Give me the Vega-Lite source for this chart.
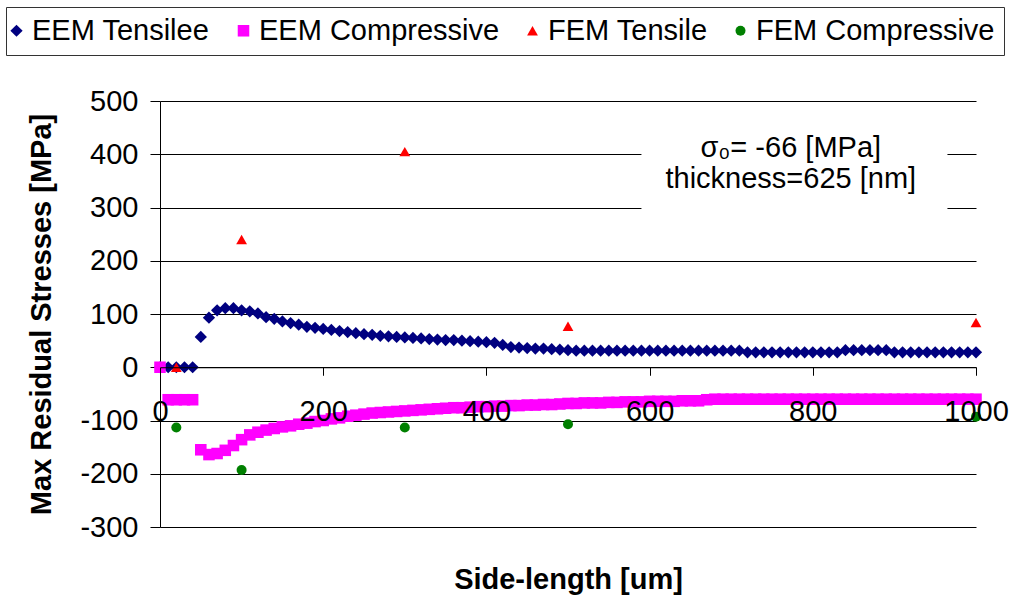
{
 "$schema": "https://vega.github.io/schema/vega-lite/v6.json",
 "width": 816,
 "height": 426,
 "autosize": {"type": "none"},
 "padding": {"left": 160, "top": 101, "right": 38, "bottom": 69},
 "background": "white",
 "config": {"font": "Liberation Sans", "view": {"stroke": null}},
 "encoding": {
  "x": {"field": "x", "type": "quantitative", "scale": {"domain": [0, 1000], "nice": false},
   "axis": {"orient": "bottom", "offset": -159.75, "values": [0, 200, 400, 600, 800, 1000], "labelExpr": "'' + datum.value", "tickSize": 8, "labelPadding": 22, "labelFontSize": 29, "labelColor": "black", "labelFlush": false, "labelOverlap": false, "domainColor": "black", "tickColor": "black", "grid": false, "title": "Side-length [um]", "titleFontSize": 29, "titleFontWeight": "bold", "titleColor": "black", "titleY": 221, "titleBaseline": "alphabetic", "zindex": 1}},
  "y": {"field": "y", "type": "quantitative", "scale": {"domain": [-300, 500], "nice": false},
   "axis": {"values": [-300, -200, -100, 0, 100, 200, 300, 400, 500], "labelExpr": "'' + datum.value", "tickSize": 10, "labelPadding": 12, "labelFontSize": 29, "labelColor": "black", "domainColor": "black", "tickColor": "black", "grid": true, "gridColor": "black", "gridOpacity": 1, "title": "Max Residual Stresses [MPa]", "titleFontSize": 29, "titleFontWeight": "bold", "titleColor": "black", "titleX": -110, "titleBaseline": "alphabetic", "zindex": 0}}
 },
 "layer": [
  {
   "data": {"values": [{"x": 590, "x2": 965, "y": 460, "y2": 293}]},
   "mark": {"type": "rect", "fill": "white", "stroke": null},
   "encoding": {"x2": {"field": "x2"}, "y2": {"field": "y2"}}
  },
  {
   "data": {"values": [{"x": 773, "y": 411, "t": "σ₀= -66 [MPa]"}, {"x": 773, "y": 354, "t": "thickness=625 [nm]"}]},
   "mark": {"type": "text", "fontSize": 29, "align": "center", "baseline": "middle", "color": "black"},
   "encoding": {"text": {"field": "t"}}
  },
  {
   "data": {"values": [
    {"s":"EEM Tensilee","x":0,"y":0},{"s":"EEM Tensilee","x":10,"y":0},{"s":"EEM Tensilee","x":20,"y":0},{"s":"EEM Tensilee","x":30,"y":0},{"s":"EEM Tensilee","x":40,"y":0},
    {"s":"EEM Tensilee","x":50,"y":57},{"s":"EEM Tensilee","x":60,"y":93},{"s":"EEM Tensilee","x":70,"y":107},{"s":"EEM Tensilee","x":80,"y":111},{"s":"EEM Tensilee","x":90,"y":111},
    {"s":"EEM Tensilee","x":100,"y":107},{"s":"EEM Tensilee","x":110,"y":105},{"s":"EEM Tensilee","x":120,"y":101},{"s":"EEM Tensilee","x":130,"y":94},{"s":"EEM Tensilee","x":140,"y":91},
    {"s":"EEM Tensilee","x":150,"y":86},{"s":"EEM Tensilee","x":160,"y":83},{"s":"EEM Tensilee","x":170,"y":80},{"s":"EEM Tensilee","x":180,"y":76},{"s":"EEM Tensilee","x":190,"y":74},
    {"s":"EEM Tensilee","x":200,"y":72},{"s":"EEM Tensilee","x":210,"y":70},{"s":"EEM Tensilee","x":220,"y":68},{"s":"EEM Tensilee","x":230,"y":66},{"s":"EEM Tensilee","x":240,"y":64},
    {"s":"EEM Tensilee","x":250,"y":62},{"s":"EEM Tensilee","x":260,"y":61},{"s":"EEM Tensilee","x":270,"y":59},{"s":"EEM Tensilee","x":280,"y":58},{"s":"EEM Tensilee","x":290,"y":57},
    {"s":"EEM Tensilee","x":300,"y":56},{"s":"EEM Tensilee","x":310,"y":55},{"s":"EEM Tensilee","x":320,"y":54},{"s":"EEM Tensilee","x":330,"y":53},{"s":"EEM Tensilee","x":340,"y":52},
    {"s":"EEM Tensilee","x":350,"y":51},{"s":"EEM Tensilee","x":360,"y":51},{"s":"EEM Tensilee","x":370,"y":50},{"s":"EEM Tensilee","x":380,"y":49},{"s":"EEM Tensilee","x":390,"y":48},
    {"s":"EEM Tensilee","x":400,"y":47},{"s":"EEM Tensilee","x":410,"y":46},{"s":"EEM Tensilee","x":420,"y":42},{"s":"EEM Tensilee","x":430,"y":38},{"s":"EEM Tensilee","x":440,"y":37},
    {"s":"EEM Tensilee","x":450,"y":36},{"s":"EEM Tensilee","x":460,"y":35},{"s":"EEM Tensilee","x":470,"y":35},{"s":"EEM Tensilee","x":480,"y":34},{"s":"EEM Tensilee","x":490,"y":33},
    {"s":"EEM Tensilee","x":500,"y":32},{"s":"EEM Tensilee","x":510,"y":31},{"s":"EEM Tensilee","x":520,"y":31},{"s":"EEM Tensilee","x":530,"y":31},{"s":"EEM Tensilee","x":540,"y":31},
    {"s":"EEM Tensilee","x":550,"y":31},{"s":"EEM Tensilee","x":560,"y":31},{"s":"EEM Tensilee","x":570,"y":31},{"s":"EEM Tensilee","x":580,"y":31},{"s":"EEM Tensilee","x":590,"y":31},
    {"s":"EEM Tensilee","x":600,"y":31},{"s":"EEM Tensilee","x":610,"y":31},{"s":"EEM Tensilee","x":620,"y":31},{"s":"EEM Tensilee","x":630,"y":31},{"s":"EEM Tensilee","x":640,"y":31},
    {"s":"EEM Tensilee","x":650,"y":31},{"s":"EEM Tensilee","x":660,"y":31},{"s":"EEM Tensilee","x":670,"y":31},{"s":"EEM Tensilee","x":680,"y":31},{"s":"EEM Tensilee","x":690,"y":31},
    {"s":"EEM Tensilee","x":700,"y":31},{"s":"EEM Tensilee","x":710,"y":31},{"s":"EEM Tensilee","x":720,"y":28},{"s":"EEM Tensilee","x":730,"y":28},{"s":"EEM Tensilee","x":740,"y":28},
    {"s":"EEM Tensilee","x":750,"y":28},{"s":"EEM Tensilee","x":760,"y":28},{"s":"EEM Tensilee","x":770,"y":28},{"s":"EEM Tensilee","x":780,"y":28},{"s":"EEM Tensilee","x":790,"y":28},
    {"s":"EEM Tensilee","x":800,"y":28},{"s":"EEM Tensilee","x":810,"y":28},{"s":"EEM Tensilee","x":820,"y":28},{"s":"EEM Tensilee","x":830,"y":28},{"s":"EEM Tensilee","x":840,"y":32},
    {"s":"EEM Tensilee","x":850,"y":32},{"s":"EEM Tensilee","x":860,"y":32},{"s":"EEM Tensilee","x":870,"y":32},{"s":"EEM Tensilee","x":880,"y":32},{"s":"EEM Tensilee","x":890,"y":32},
    {"s":"EEM Tensilee","x":900,"y":28},{"s":"EEM Tensilee","x":910,"y":28},{"s":"EEM Tensilee","x":920,"y":28},{"s":"EEM Tensilee","x":930,"y":28},{"s":"EEM Tensilee","x":940,"y":28},
    {"s":"EEM Tensilee","x":950,"y":28},{"s":"EEM Tensilee","x":960,"y":28},{"s":"EEM Tensilee","x":970,"y":28},{"s":"EEM Tensilee","x":980,"y":28},{"s":"EEM Tensilee","x":990,"y":28},
    {"s":"EEM Tensilee","x":1000,"y":28},
    {"s":"EEM Compressive","x":0,"y":0},{"s":"EEM Compressive","x":10,"y":-61},{"s":"EEM Compressive","x":20,"y":-61},{"s":"EEM Compressive","x":30,"y":-61},{"s":"EEM Compressive","x":40,"y":-61},
    {"s":"EEM Compressive","x":50,"y":-155},{"s":"EEM Compressive","x":60,"y":-164},{"s":"EEM Compressive","x":70,"y":-162},{"s":"EEM Compressive","x":80,"y":-156},{"s":"EEM Compressive","x":90,"y":-147},
    {"s":"EEM Compressive","x":100,"y":-136},{"s":"EEM Compressive","x":110,"y":-127},{"s":"EEM Compressive","x":120,"y":-122},{"s":"EEM Compressive","x":130,"y":-118},{"s":"EEM Compressive","x":140,"y":-115},
    {"s":"EEM Compressive","x":150,"y":-112},{"s":"EEM Compressive","x":160,"y":-110},{"s":"EEM Compressive","x":170,"y":-107},{"s":"EEM Compressive","x":180,"y":-105},{"s":"EEM Compressive","x":190,"y":-102},
    {"s":"EEM Compressive","x":200,"y":-100},{"s":"EEM Compressive","x":210,"y":-97},{"s":"EEM Compressive","x":220,"y":-95},{"s":"EEM Compressive","x":230,"y":-92},{"s":"EEM Compressive","x":240,"y":-90},
    {"s":"EEM Compressive","x":250,"y":-88},{"s":"EEM Compressive","x":260,"y":-86},{"s":"EEM Compressive","x":270,"y":-85},{"s":"EEM Compressive","x":280,"y":-84},{"s":"EEM Compressive","x":290,"y":-83},
    {"s":"EEM Compressive","x":300,"y":-82},{"s":"EEM Compressive","x":310,"y":-81},{"s":"EEM Compressive","x":320,"y":-80},{"s":"EEM Compressive","x":330,"y":-79},{"s":"EEM Compressive","x":340,"y":-78},
    {"s":"EEM Compressive","x":350,"y":-77},{"s":"EEM Compressive","x":360,"y":-76},{"s":"EEM Compressive","x":370,"y":-76},{"s":"EEM Compressive","x":380,"y":-75},{"s":"EEM Compressive","x":390,"y":-74},
    {"s":"EEM Compressive","x":400,"y":-74},{"s":"EEM Compressive","x":410,"y":-73},{"s":"EEM Compressive","x":420,"y":-73},{"s":"EEM Compressive","x":430,"y":-72},{"s":"EEM Compressive","x":440,"y":-72},
    {"s":"EEM Compressive","x":450,"y":-71},{"s":"EEM Compressive","x":460,"y":-71},{"s":"EEM Compressive","x":470,"y":-70},{"s":"EEM Compressive","x":480,"y":-70},{"s":"EEM Compressive","x":490,"y":-69},
    {"s":"EEM Compressive","x":500,"y":-68},{"s":"EEM Compressive","x":510,"y":-68},{"s":"EEM Compressive","x":520,"y":-67},{"s":"EEM Compressive","x":530,"y":-67},{"s":"EEM Compressive","x":540,"y":-67},
    {"s":"EEM Compressive","x":550,"y":-66},{"s":"EEM Compressive","x":560,"y":-66},{"s":"EEM Compressive","x":570,"y":-65},{"s":"EEM Compressive","x":580,"y":-65},{"s":"EEM Compressive","x":590,"y":-65},
    {"s":"EEM Compressive","x":600,"y":-64},{"s":"EEM Compressive","x":610,"y":-64},{"s":"EEM Compressive","x":620,"y":-64},{"s":"EEM Compressive","x":630,"y":-64},{"s":"EEM Compressive","x":640,"y":-63},
    {"s":"EEM Compressive","x":650,"y":-63},{"s":"EEM Compressive","x":660,"y":-63},{"s":"EEM Compressive","x":670,"y":-61},{"s":"EEM Compressive","x":680,"y":-60},{"s":"EEM Compressive","x":690,"y":-60},
    {"s":"EEM Compressive","x":700,"y":-60},{"s":"EEM Compressive","x":710,"y":-60},{"s":"EEM Compressive","x":720,"y":-60},{"s":"EEM Compressive","x":730,"y":-60},{"s":"EEM Compressive","x":740,"y":-60},
    {"s":"EEM Compressive","x":750,"y":-60},{"s":"EEM Compressive","x":760,"y":-60},{"s":"EEM Compressive","x":770,"y":-60},{"s":"EEM Compressive","x":780,"y":-60},{"s":"EEM Compressive","x":790,"y":-60},
    {"s":"EEM Compressive","x":800,"y":-60},{"s":"EEM Compressive","x":810,"y":-60},{"s":"EEM Compressive","x":820,"y":-60},{"s":"EEM Compressive","x":830,"y":-60},{"s":"EEM Compressive","x":840,"y":-60},
    {"s":"EEM Compressive","x":850,"y":-60},{"s":"EEM Compressive","x":860,"y":-60},{"s":"EEM Compressive","x":870,"y":-60},{"s":"EEM Compressive","x":880,"y":-60},{"s":"EEM Compressive","x":890,"y":-60},
    {"s":"EEM Compressive","x":900,"y":-60},{"s":"EEM Compressive","x":910,"y":-60},{"s":"EEM Compressive","x":920,"y":-60},{"s":"EEM Compressive","x":930,"y":-60},{"s":"EEM Compressive","x":940,"y":-60},
    {"s":"EEM Compressive","x":950,"y":-60},{"s":"EEM Compressive","x":960,"y":-60},{"s":"EEM Compressive","x":970,"y":-60},{"s":"EEM Compressive","x":980,"y":-60},{"s":"EEM Compressive","x":990,"y":-60},
    {"s":"EEM Compressive","x":1000,"y":-60},
    {"s":"FEM Tensile","x":20,"y":0},{"s":"FEM Tensile","x":100,"y":240},{"s":"FEM Tensile","x":300,"y":405},{"s":"FEM Tensile","x":500,"y":77},{"s":"FEM Tensile","x":1000,"y":84},
    {"s":"FEM Compressive","x":20,"y":-113},{"s":"FEM Compressive","x":100,"y":-193},{"s":"FEM Compressive","x":300,"y":-113},{"s":"FEM Compressive","x":500,"y":-107},{"s":"FEM Compressive","x":1000,"y":-93}
   ]},
   "mark": {"type": "point", "filled": true, "opacity": 1},
   "encoding": {
    "color": {"field": "s", "type": "nominal", "sort": null,
     "scale": {"domain": ["EEM Tensilee", "EEM Compressive", "FEM Tensile", "FEM Compressive"], "range": ["#000080", "#FF00FF", "#FF0000", "#008000"]},
     "legend": {"orient": "none", "legendX": -154, "legendY": -94, "direction": "horizontal", "columns": 4, "title": null, "labelFontSize": 29, "labelColor": "black", "strokeColor": "#333333", "padding": 9, "columnPadding": 27, "labelOffset": 1, "symbolOffset": -13, "symbolSize": 90, "labelLimit": 400}},
    "shape": {"field": "s", "type": "nominal", "sort": null,
     "scale": {"domain": ["EEM Tensilee", "EEM Compressive", "FEM Tensile", "FEM Compressive"], "range": ["diamond", "square", "triangle-up", "circle"]}},
    "size": {"field": "s", "type": "nominal", "sort": null, "legend": null,
     "scale": {"domain": ["EEM Tensilee", "EEM Compressive", "FEM Tensile", "FEM Compressive"], "range": [150, 100, 170, 115]}}
   }
  }
 ]
}
